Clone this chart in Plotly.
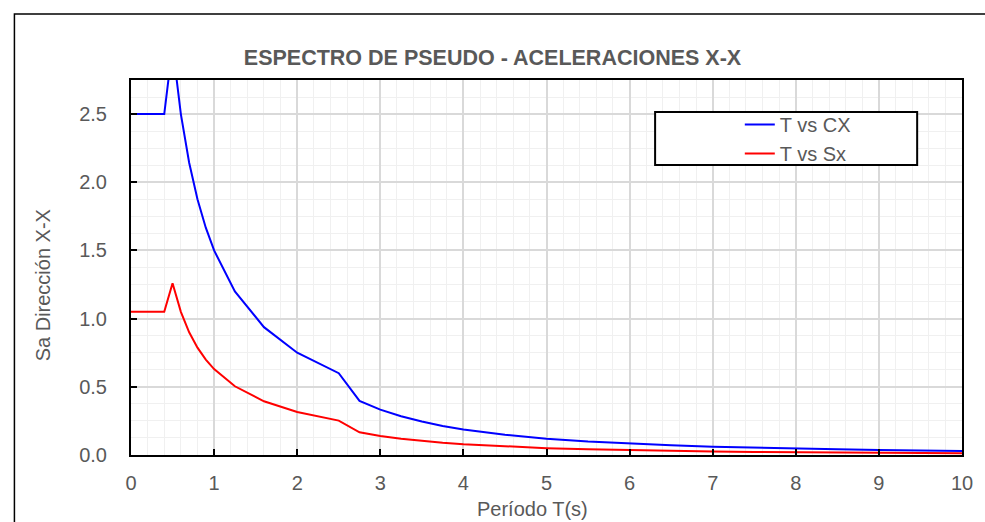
import plotly.graph_objects as go

# Data
T = [0, 0.1, 0.2, 0.3, 0.4, 0.5, 0.6, 0.7, 0.8, 0.9, 1.0, 1.25, 1.6, 2.0, 2.5,
     2.75, 3.0, 3.25, 3.5, 3.75, 4.0, 4.5, 5.0, 5.5, 6.0, 6.5, 7.0, 7.5, 8.0,
     8.5, 9.0, 9.5, 10.0]
CX = [2.5, 2.5, 2.5, 2.5, 2.5, 3.0, 2.5, 2.143, 1.875, 1.667, 1.5, 1.2, 0.9375,
      0.75, 0.6, 0.397, 0.333, 0.284, 0.245, 0.213, 0.1875, 0.148, 0.12, 0.099,
      0.0833, 0.071, 0.0612, 0.0533, 0.0469, 0.0415, 0.037, 0.0332, 0.03]
SX = [1.05, 1.05, 1.05, 1.05, 1.05, 1.26, 1.05, 0.9, 0.7875, 0.7, 0.63, 0.504,
      0.394, 0.315, 0.252, 0.1667, 0.14, 0.1193, 0.1029, 0.0896, 0.0788, 0.0622,
      0.0504, 0.0417, 0.035, 0.0298, 0.0257, 0.0224, 0.0197, 0.0174, 0.0156,
      0.014, 0.0126]

X_RANGE = [0, 10]
Y_RANGE = [0, 2.75]
X_TICKS = [0, 1, 2, 3, 4, 5, 6, 7, 8, 9, 10]
Y_TICKS = [0.0, 0.5, 1.0, 1.5, 2.0, 2.5]
Y_TICKTEXT = ["0.0", "0.5", "1.0", "1.5", "2.0", "2.5"]

FONT = "Liberation Sans, Arial, sans-serif"
GREY = "#595959"

L, R, TOP, B = 131, 20, 80, 67
PW, PH = 985 - L - R, 522 - TOP - B


def px(x):
    return (x - L) / PW


def py(y):
    return (522 - B - y) / PH


fig = go.Figure()
fig.add_trace(go.Scatter(x=T, y=CX, mode="lines", name="T vs CX",
                         line=dict(color="#0000FF", width=2)))
fig.add_trace(go.Scatter(x=T, y=SX, mode="lines", name="T vs Sx",
                         line=dict(color="#FF0000", width=2)))

fig.update_layout(
    width=985, height=522,
    margin=dict(l=L, r=R, t=TOP, b=B),
    paper_bgcolor="white", plot_bgcolor="white",
    font=dict(family=FONT, size=20, color=GREY),
    title=dict(text="<b>ESPECTRO DE PSEUDO - ACELERACIONES X-X</b>",
               x=0.5, xref="container", xanchor="center",
               y=1 - 57 / 522, yref="container", yanchor="middle",
               font=dict(family=FONT, size=21.5, color=GREY)),
    xaxis=dict(range=X_RANGE, tickmode="array", tickvals=X_TICKS,
               ticks="inside", ticklen=6, tickwidth=1.5, tickcolor="black",
               showline=True, linecolor="black", linewidth=2, mirror=True,
               showgrid=True, gridcolor="#d9d9d9", gridwidth=1.5,
               zeroline=False, ticklabelstandoff=9,
               minor=dict(dtick=0.2, showgrid=True, gridcolor="#f0f0f0",
                          gridwidth=1, ticklen=0)),
    yaxis=dict(range=Y_RANGE, tickmode="array", tickvals=Y_TICKS,
               ticktext=Y_TICKTEXT,
               ticks="inside", ticklen=6, tickwidth=1.5, tickcolor="black",
               showline=True, linecolor="black", linewidth=2, mirror=True,
               showgrid=True, gridcolor="#d9d9d9", gridwidth=1.5,
               zeroline=False, ticklabelstandoff=18,
               minor=dict(dtick=0.125, showgrid=True, gridcolor="#f0f0f0",
                          gridwidth=1, ticklen=0)),
    xaxis2=dict(overlaying="x", anchor="y", side="bottom", range=X_RANGE,
                tickmode="linear", tick0=0, dtick=0.1, ticks="outside",
                ticklen=5, tickwidth=1.5, tickcolor="black",
                showticklabels=False, showgrid=False, zeroline=False,
                showline=False),
    yaxis2=dict(overlaying="y", anchor="x", side="left", range=Y_RANGE,
                tickmode="linear", tick0=0, dtick=0.1, ticks="outside",
                ticklen=5, tickwidth=1.5, tickcolor="black",
                showticklabels=False, showgrid=False, zeroline=False,
                showline=False),
    showlegend=True,
    legend=dict(x=px(742), xanchor="left",
                y=py(105), yanchor="top",
                bgcolor="rgba(0,0,0,0)", borderwidth=0,
                font=dict(family=FONT, size=20, color=GREY),
                itemwidth=30, tracegroupgap=0),
    annotations=[
        dict(text="Período T(s)", xref="paper", yref="paper",
             x=px(534), y=py(509), xanchor="center", yanchor="middle",
             showarrow=False, font=dict(family=FONT, size=20, color=GREY)),
        dict(text="Sa Dirección X-X", xref="paper", yref="paper",
             x=px(43), y=py(285), xanchor="center", yanchor="middle",
             textangle=-90, showarrow=False,
             font=dict(family=FONT, size=20, color=GREY)),
    ],
    shapes=[
        # legend frame
        dict(type="rect", xref="paper", yref="paper",
             x0=px(657), x1=px(920), y0=py(165), y1=py(112),
             line=dict(color="black", width=2), fillcolor="white",
             layer="above"),
        # outer chart frame
        dict(type="rect", xref="paper", yref="paper",
             x0=px(14), x1=px(1000), y0=py(540), y1=py(14),
             line=dict(color="black", width=1.5), layer="above"),
    ],
)

fig.write_html("out.html", config={"displayModeBar": False},
               post_script="document.body.style.margin='0';")
